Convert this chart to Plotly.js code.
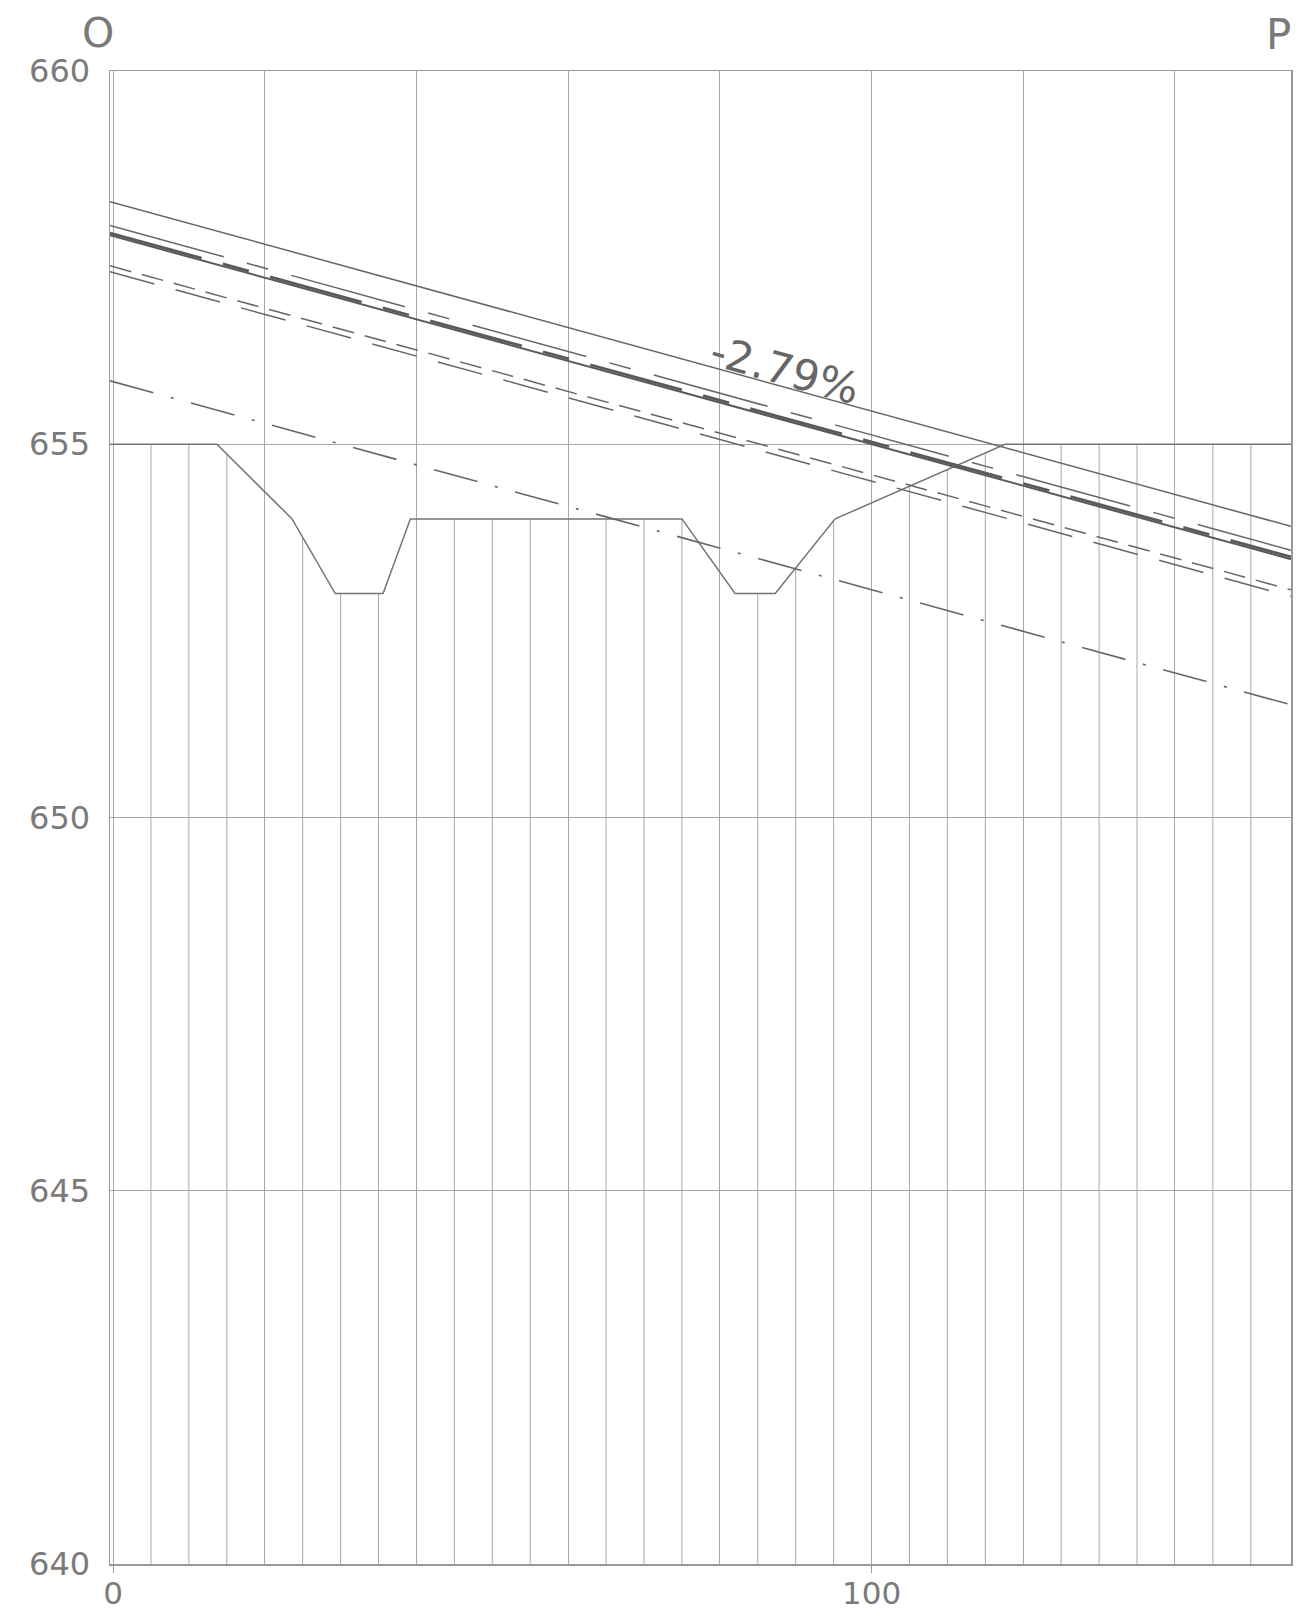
<!DOCTYPE html>
<html>
<head>
<meta charset="utf-8">
<script src="https://cdn.plot.ly/plotly-3.0.1.min.js"></script>
<style>html,body{margin:0;padding:0;background:#fff;}#chart{width:1298px;height:1614px;}</style>
</head>
<body>
<div id="chart"></div>
<script>
// ---- data ----
const xEnds = [-0.4, 155.3];              // chainage at left / right border
const topLine = [658.25, 653.90];         // thin solid (upper)
const centerLine = [657.93, 653.58];      // long-short dashed
const mainLine = [657.80, 653.46];        // thick solid
const mainOverlay = [657.83, 653.49];     // dashes overlaid on main line
const shortDashLine = [657.39, 653.05];   // short dashes
const longDashLine = [657.31, 652.96];    // long dashes
const dashDotLine = [655.85, 651.51];     // dash-dot

const groundX = [-0.4, 13.7, 23.6, 29.3, 35.6, 39.2, 75.0, 82.0, 87.3, 95.2, 117.6, 155.3];
const groundY = [655, 655, 654, 653, 653, 654, 654, 653, 653, 654, 655, 655];

const stations = [5, 10, 15, 25, 30, 35, 45, 50, 55, 65, 70, 75, 85, 90, 95, 105, 110, 115, 125, 130, 135, 145, 150];
const groundAtStation = [655, 655, 654.87, 653.75, 653, 653, 654, 654, 654, 654, 654, 654, 653, 653.34, 653.98, 654.44, 654.66, 654.88, 655, 655, 655, 655, 655];

const majorStations = [20, 40, 60, 80, 100, 120, 140];
const yTicks = [640, 645, 650, 655, 660];
const xTicks = [0, 100];
const gradeLabel = '-2.79%';
const leftLabel = 'O';
const rightLabel = 'P';
const bottomElev = 640;

// ---- build station verticals ----
const vx = [], vy = [];
stations.forEach((s, i) => { vx.push(s, s, null); vy.push(bottomElev, groundAtStation[i], null); });

const gridCol = '#a8a8a8';
const lineCol = '#666666';

const traces = [
  {x: vx, y: vy, mode: 'lines', line: {color: gridCol, width: 1}, hoverinfo: 'skip'},
  {x: groundX, y: groundY, mode: 'lines', line: {color: '#747474', width: 1.5}},
  {x: xEnds, y: dashDotLine, mode: 'lines', line: {color: lineCol, width: 1.6, dash: '45px,18px,3px,18px'}},
  {x: xEnds, y: longDashLine, mode: 'lines', line: {color: lineCol, width: 1.5, dash: '46px,22px'}},
  {x: xEnds, y: shortDashLine, mode: 'lines', line: {color: lineCol, width: 1.5, dash: '22px,11px'}},
  {x: xEnds, y: mainLine, mode: 'lines', line: {color: '#5a5a5a', width: 2}},
  {x: xEnds, y: mainOverlay, mode: 'lines', line: {color: '#5a5a5a', width: 2.8, dash: '95px,22px,27px,22px'}},
  {x: xEnds, y: centerLine, mode: 'lines', line: {color: lineCol, width: 1.5, dash: '118px,24px,22px,24px'}},
  {x: xEnds, y: topLine, mode: 'lines', line: {color: lineCol, width: 1.5}}
];

const tickFont = {family: 'DejaVu Sans', size: 32, color: '#7a7a7a'};
const xTickFont = {family: 'DejaVu Sans', size: 31, color: '#7a7a7a'};

const layout = {
  width: 1298, height: 1614,
  margin: {l: 110, r: 7, t: 71, b: 50},
  paper_bgcolor: '#ffffff', plot_bgcolor: '#ffffff',
  showlegend: false,
  xaxis: {
    range: [xEnds[0], xEnds[1]],
    tickvals: xTicks, ticktext: xTicks.map(String),
    showgrid: true, gridcolor: gridCol, gridwidth: 1,
    minor: {tickvals: majorStations, showgrid: true, gridcolor: gridCol, gridwidth: 1, ticks: ''},
    ticks: 'outside', ticklen: 7, tickcolor: '#999', tickwidth: 1,
    showline: true, linecolor: '#999', linewidth: 1.5, mirror: true,
    zeroline: false, tickfont: xTickFont, ticklabelstandoff: -6
  },
  yaxis: {
    range: [640, 660],
    tickvals: yTicks, ticktext: yTicks.map(String),
    showgrid: true, gridcolor: gridCol, gridwidth: 1,
    ticks: '', showline: true, linecolor: '#999', linewidth: 1.5, mirror: true,
    zeroline: false, tickfont: tickFont, ticklabelstandoff: 12
  },
  annotations: [
    {xref: 'x', yref: 'y', x: 88.6, y: 656.0, text: gradeLabel, showarrow: false,
     textangle: 15.4, font: {family: 'DejaVu Sans', size: 43, color: '#666666'}},
    {xref: 'paper', yref: 'paper', x: (97.5 - 110) / 1181, y: (1564 - 33) / 1493, text: leftLabel,
     showarrow: false, xanchor: 'center', yanchor: 'middle', font: {family: 'DejaVu Sans', size: 41, color: '#7a7a7a'}},
    {xref: 'paper', yref: 'paper', x: (1278 - 110) / 1181, y: (1564 - 34) / 1493, text: rightLabel,
     showarrow: false, xanchor: 'center', yanchor: 'middle', font: {family: 'DejaVu Sans', size: 42, color: '#7a7a7a'}}
  ]
};

Plotly.newPlot('chart', traces, layout, {staticPlot: true, displayModeBar: false});
</script>
</body>
</html>
